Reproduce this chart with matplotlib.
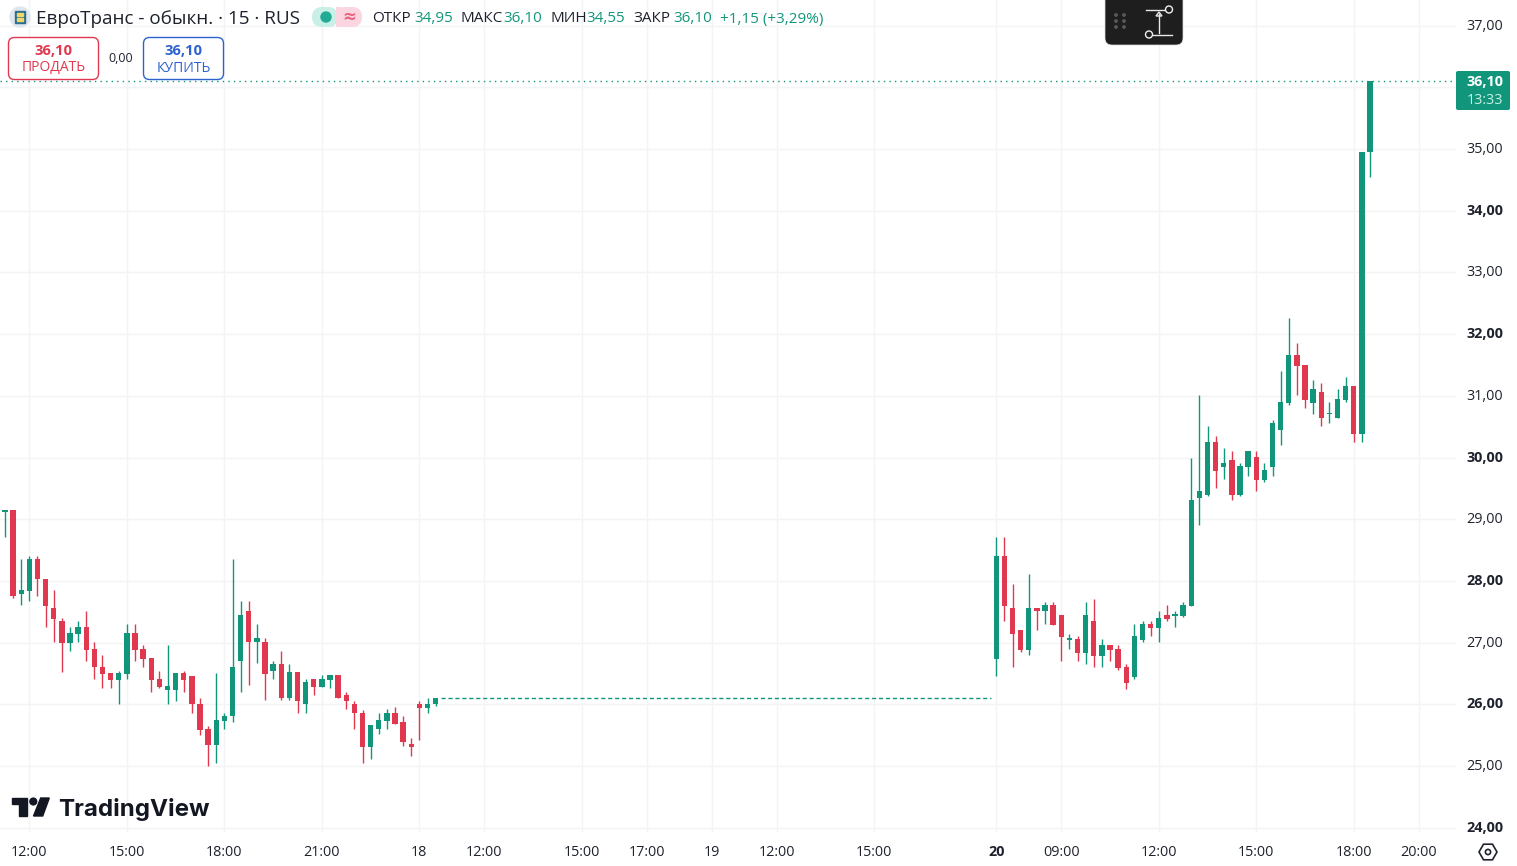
import matplotlib
matplotlib.use("Agg")
from matplotlib import pyplot as plt
from matplotlib.patches import Circle, FancyBboxPatch, Polygon, Rectangle, RegularPolygon
from matplotlib.transforms import ScaledTranslation

# 15 minute bars, numbered along the time axis (no bars between 54 and 121)
bar_ids = list(range(54)) + list(range(122, 169))

opens = [
    29.12, 29.15, 27.79, 27.84, 28.36, 28.04, 27.56, 27.35, 27.00, 27.15,
    27.26, 26.90, 26.61, 26.51, 26.40, 26.50, 27.16, 26.90, 26.75, 26.41,
    26.24, 26.24, 26.51, 26.46, 26.01, 25.60, 25.35, 25.74, 25.81, 26.70,
    27.52, 27.01, 27.02, 26.55, 26.66, 26.10, 26.52, 26.00, 26.42, 26.29,
    26.40, 26.47, 26.16, 26.01, 25.87, 25.31, 25.60, 25.74, 25.87, 25.71,
    25.36, 26.01, 25.95, 26.00,
    26.74, 28.41, 27.56, 27.21, 26.89, 27.56, 27.51, 27.61, 27.45, 27.05,
    27.06, 26.84, 27.35, 26.79, 26.96, 26.90, 26.60, 26.44, 27.04, 27.30,
    27.24, 27.45, 27.44, 27.43, 27.60, 29.35, 29.39, 30.25, 29.85, 29.96,
    29.39, 29.85, 30.01, 29.64, 29.85, 30.45, 30.89, 31.66, 31.50, 30.89,
    31.06, 30.70, 30.64, 30.94, 31.16, 30.38, 34.95,
]
highs = [
    29.15, 29.15, 28.36, 28.41, 28.41, 28.04, 27.86, 27.40, 27.25, 27.35,
    27.52, 27.01, 26.80, 26.51, 26.55, 27.30, 27.30, 26.96, 26.75, 26.55,
    26.96, 26.51, 26.55, 26.46, 26.10, 25.65, 26.51, 25.86, 28.36, 27.67,
    27.67, 27.31, 27.07, 26.71, 26.86, 26.66, 26.52, 26.41, 26.42, 26.47,
    26.47, 26.47, 26.21, 26.06, 25.91, 25.66, 25.87, 25.92, 25.96, 25.82,
    25.46, 26.06, 26.10, 26.10,
    28.72, 28.72, 27.96, 27.21, 28.12, 27.56, 27.66, 27.66, 27.45, 27.15,
    27.11, 27.66, 27.71, 27.06, 26.96, 26.96, 26.65, 27.30, 27.35, 27.35,
    27.52, 27.61, 27.52, 27.66, 30.00, 31.01, 30.51, 30.35, 30.16, 30.11,
    29.91, 30.11, 30.11, 29.91, 30.61, 31.41, 32.26, 31.86, 31.50, 31.26,
    31.21, 30.90, 31.11, 31.31, 31.16, 34.95, 36.10,
]
lows = [
    28.72, 27.73, 27.61, 27.67, 27.76, 27.26, 27.02, 26.52, 26.86, 27.02,
    26.71, 26.42, 26.26, 26.26, 26.01, 26.42, 26.71, 26.61, 26.21, 26.26,
    26.01, 26.06, 26.21, 25.87, 25.51, 25.00, 25.06, 25.61, 25.71, 26.21,
    26.31, 26.67, 26.07, 26.42, 26.07, 26.07, 25.87, 25.87, 26.16, 26.29,
    26.26, 26.10, 25.92, 25.61, 25.06, 25.11, 25.52, 25.61, 25.69, 25.32,
    25.16, 25.42, 25.87, 25.97,
    26.46, 27.36, 26.61, 26.85, 26.80, 27.21, 27.30, 27.29, 26.71, 26.90,
    26.71, 26.66, 26.61, 26.61, 26.71, 26.56, 26.25, 26.41, 27.02, 27.11,
    27.02, 27.36, 27.26, 27.41, 27.60, 28.91, 29.37, 29.51, 29.65, 29.31,
    29.37, 29.70, 29.46, 29.61, 29.70, 30.21, 30.85, 31.02, 30.81, 30.71,
    30.51, 30.56, 30.64, 30.90, 30.25, 30.25, 34.55,
]
closes = [
    29.15, 27.75, 27.86, 28.36, 28.04, 27.60, 27.39, 27.00, 27.16, 27.26,
    26.89, 26.60, 26.50, 26.40, 26.51, 27.16, 26.89, 26.74, 26.40, 26.28,
    26.30, 26.51, 26.40, 26.00, 25.59, 25.35, 25.75, 25.81, 26.61, 27.45,
    27.01, 27.07, 26.50, 26.66, 26.10, 26.52, 26.05, 26.37, 26.29, 26.42,
    26.47, 26.10, 26.05, 25.86, 25.31, 25.66, 25.75, 25.87, 25.69, 25.40,
    25.31, 25.95, 26.01, 26.10,
    28.41, 27.60, 27.15, 26.89, 27.56, 27.51, 27.61, 27.29, 27.10, 27.06,
    26.84, 27.45, 26.79, 26.96, 26.89, 26.59, 26.35, 27.11, 27.30, 27.24,
    27.40, 27.39, 27.45, 27.61, 29.31, 29.46, 30.25, 29.78, 29.91, 29.39,
    29.86, 30.11, 29.64, 29.80, 30.56, 30.90, 31.66, 31.49, 30.94, 31.11,
    30.64, 30.71, 30.95, 31.16, 30.38, 34.95, 36.10,
]

# flat line over the gap between sessions
gap_ids = [53.6, 121.4]
gap_prices = [26.10, 26.10]
last_price = 36.10

price_ticks = list(range(24, 38))
price_labels = ["24,00", "25,00", "26,00", "27,00", "28,00", "29,00", "30,00",
                "31,00", "32,00", "33,00", "34,00", "35,00", "", "37,00"]
time_ticks = [3, 15, 27, 39, 51, 59, 71, 79, 87, 95, 107, 122, 130, 142, 154, 166, 174]
time_labels = ["12:00", "15:00", "18:00", "21:00", "18", "12:00", "15:00", "17:00", "19",
               "12:00", "15:00", "20", "09:00", "12:00", "15:00", "18:00", "20:00"]

GREEN = "#12967b"
RED = "#e0394f"
BLUE = "#2f62cf"
TEXT = "#1e222d"
GRID = "#f3f4f6"
FONT = "Open Sans"

plt.rcParams["font.family"] = [FONT, "DejaVu Sans"]

W, H = 1517, 866
fig = plt.figure(figsize=(W / 100, H / 100), dpi=100, facecolor="white")
# plot area is 1456 x 832 px, flush with the top left corner
ax = fig.add_axes([0, 1 - 832 / H, 1456 / W, 832 / H])
ax.set_xlim(-0.615, 178.58)
ax.set_ylim(23.934, 37.414)
for side in ax.spines.values():
    side.set_visible(False)
ax.set_axisbelow(True)
ax.grid(True, color=GRID, linewidth=1)

ax.yaxis.tick_right()
ax.set_yticks(price_ticks)
ax.set_yticklabels(price_labels, fontsize=10.4, color=TEXT)
ax.tick_params(axis="y", length=0, pad=7.5)
ax.set_xticks(time_ticks)
ax.set_xticklabels(time_labels, fontsize=10.4, color=TEXT)
ax.tick_params(axis="x", length=0, pad=9)
# labels sit a little higher than the gridlines
shift_up = ScaledTranslation(0, 1.5 / 100, fig.dpi_scale_trans)
for label in ax.get_yticklabels():
    label.set_transform(label.get_transform() + shift_up)
    if label.get_text()[:2] in ("24", "26", "28", "30", "32", "34"):
        label.set_fontweight("bold")
for label in ax.get_xticklabels():
    if label.get_text() == "20":
        label.set_fontweight("bold")

ax.axhline(last_price, color=GREEN, linewidth=1, linestyle=(0, (1, 3)), zorder=1)
ax.plot(gap_ids, gap_prices, color=GREEN, linewidth=1, linestyle=(0, (3, 2)), zorder=2)

for i, o, h, l, c in zip(bar_ids, opens, highs, lows, closes):
    col = GREEN if c >= o else RED
    ax.vlines(i, l, h, color=col, linewidth=1.0, zorder=3)
    ax.bar(i, max(abs(c - o), 0.025), bottom=min(o, c), width=0.66, color=col, linewidth=0, zorder=4)

# overlay in pixel coordinates for the header, buttons, logo and labels
ui = fig.add_axes([0, 0, 1, 1], facecolor="none")
ui.set_xlim(0, W)
ui.set_ylim(H, 0)
ui.axis("off")

# header line
ui.add_patch(Circle((20, 17), 10, color="#dfe6ee"))
ui.add_patch(Rectangle((15, 11), 10, 12, color="#2a6f8f", zorder=3))
ui.add_patch(Rectangle((17, 13), 6, 3, color="#f1d76a", zorder=4))
ui.add_patch(Rectangle((17, 18), 6, 3, color="#f1d76a", zorder=4))
ui.text(36, 19.5, "ЕвроТранс - обыкн. · 15 · RUS", fontsize=13.6, color=TEXT, va="center")

ui.add_patch(FancyBboxPatch((312, 7), 26, 20, boxstyle="round,pad=0,rounding_size=10", fc="#c9efe6", ec="none"))
ui.add_patch(FancyBboxPatch((336, 7), 26, 20, boxstyle="round,pad=0,rounding_size=10", fc="#fbd5df", ec="none"))
ui.add_patch(Rectangle((336, 7), 6, 20, fc="#fbd5df", ec="none"))
ui.add_patch(Circle((326, 17), 5, color="#22ab94", zorder=3))
ui.text(349, 17, "≈", fontsize=12, color="#ef5f7f", ha="center", va="center", family="DejaVu Sans", fontweight="bold")

ohlc_text = [
    (372, "ОТКР", TEXT), (414, "34,95", GREEN), (461, "МАКС", TEXT), (503, "36,10", GREEN),
    (551, "МИН", TEXT), (586, "34,55", GREEN), (633, "ЗАКР", TEXT), (673, "36,10", GREEN),
    (720, "+1,15 (+3,29%)", GREEN),
]
for px, s, col in ohlc_text:
    ui.text(px, 19, s, fontsize=11, color=col, va="center")

# sell / buy buttons
ui.add_patch(FancyBboxPatch((8.5, 37.5), 90, 42, boxstyle="round,pad=0,rounding_size=6", fc="white", ec=RED, lw=1))
ui.text(53.5, 51, "36,10", fontsize=10.6, color=RED, ha="center", va="center", fontweight="bold")
ui.text(53.5, 68, "ПРОДАТЬ", fontsize=10, color=RED, ha="center", va="center")
ui.text(121, 58.5, "0,00", fontsize=9, color=TEXT, ha="center", va="center")
ui.add_patch(FancyBboxPatch((143.5, 37.5), 80, 42, boxstyle="round,pad=0,rounding_size=6", fc="white", ec=BLUE, lw=1))
ui.text(183.5, 51, "36,10", fontsize=10.6, color=BLUE, ha="center", va="center", fontweight="bold")
ui.text(183.5, 68, "КУПИТЬ", fontsize=10, color=BLUE, ha="center", va="center")

# floating toolbar
ui.add_patch(FancyBboxPatch((1105, -8), 78, 53, boxstyle="round,pad=0,rounding_size=7", fc="#1e1e1e", ec="#dddddd", lw=0.5))
for dx in (1116, 1124):
    for dy in (15, 21, 27):
        ui.add_patch(Circle((dx, dy), 1.2, color="#5a5a5a"))
ui.plot([1146, 1165], [9.5, 9.5], color="#e8e8e8", lw=1)
ui.plot([1153, 1172], [34.5, 34.5], color="#e8e8e8", lw=1)
ui.plot([1159, 1159], [14, 33], color="#e8e8e8", lw=1)
ui.add_patch(Polygon([(1156, 16), (1159, 12), (1162, 16)], fc="none", ec="#e8e8e8", lw=1))
ui.add_patch(Circle((1169, 9.5), 3.5, fc="#1e1e1e", ec="#f0f0f0", lw=1, zorder=4))
ui.add_patch(Circle((1149, 34.5), 3.5, fc="#1e1e1e", ec="#f0f0f0", lw=1, zorder=4))

# last price tag
ui.add_patch(FancyBboxPatch((1456, 71), 54, 39, boxstyle="round,pad=0,rounding_size=2", fc=GREEN, ec="none"))
ui.text(1485, 82, "36,10", fontsize=10.4, color="white", ha="center", va="center", fontweight="bold")
ui.text(1485, 100, "13:33", fontsize=10.4, color="#c9efe6", ha="center", va="center")

# logo
ui.add_patch(Polygon([(12, 798), (27, 798), (27, 816), (19.3, 816), (19.3, 804), (12, 804)], color="#131722"))
ui.add_patch(Circle((33.3, 801.5), 3.4, color="#131722"))
ui.add_patch(Polygon([(40.7, 798), (49.3, 798), (42.7, 816), (33.5, 816)], color="#131722"))
ui.text(58, 816, "TradingView", fontsize=17.4, color="#131722", va="baseline", family="Inter", fontweight="bold")

# settings icon on the axes corner
ui.add_patch(RegularPolygon((1488, 852), 6, radius=9, orientation=0.5236, fc="none", ec=TEXT, lw=1.2))
ui.add_patch(Circle((1488, 852), 2.6, fc="none", ec=TEXT, lw=1.2))

fig.savefig("out.png", dpi=100)
plt.close(fig)
